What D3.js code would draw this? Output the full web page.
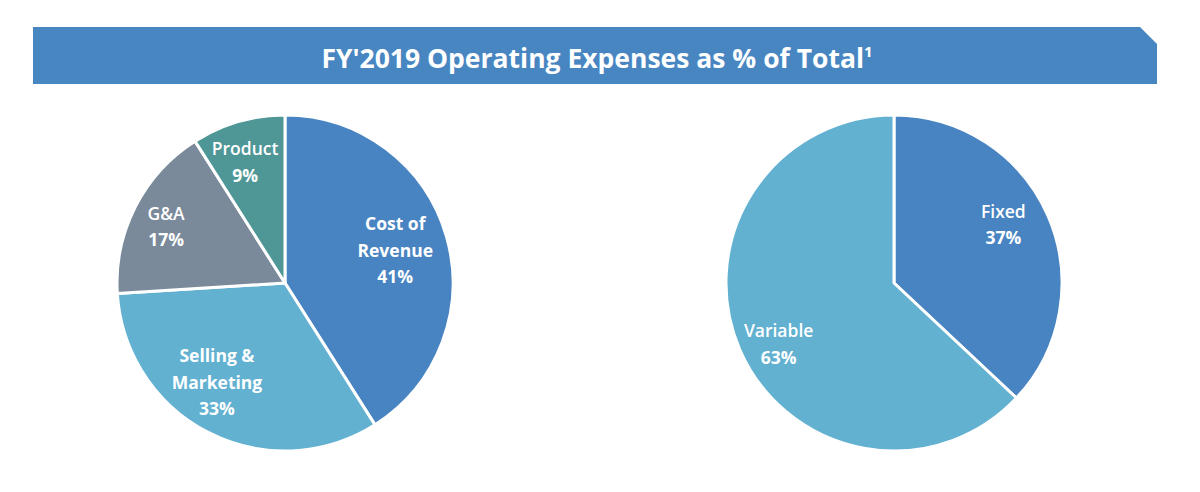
<!DOCTYPE html>
<html><head><meta charset="utf-8">
<script src="https://cdn.jsdelivr.net/npm/d3@7"></script>
<style>body{margin:0;background:#fff}svg{display:block}</style>
</head><body>
<svg id="c" width="1200" height="492"></svg>
<script>
const title = "FY'2019 Operating Expenses as % of Total";
const titleNote = "1";
const leftCategories = [["Cost of","Revenue"], ["Selling &","Marketing"], ["G&A"], ["Product"]];
const leftValues = [41, 33, 17, 9];
const leftColors = ["#4884c1", "#62b1d1", "#7b8a9b", "#4f9697"];
const rightCategories = [["Fixed"], ["Variable"]];
const rightValues = [37, 63];
const rightColors = ["#4884c1", "#62b1d1"];

const svg = d3.select("#c");
const FONT = "'Open Sans', Lato, sans-serif";

// banner
const bx0 = 33, bx1 = 1157, by0 = 27, by1 = 84, cut = 17;
svg.append("path")
  .attr("d", `M${bx0},${by0}L${bx1-cut},${by0}L${bx1},${by0+cut}L${bx1},${by1}L${bx0},${by1}Z`)
  .attr("fill", "#4886c2");
const tt = svg.append("text").attr("x", 597).attr("y", 68).attr("text-anchor", "middle")
  .attr("fill", "#fff").attr("font-family", FONT).attr("font-weight", 700).attr("font-size", 26.5);
tt.append("tspan").text(title);
tt.append("tspan").attr("font-size", 15).attr("dy", -11).text(titleNote);

function drawPie(cx, cy, R, cats, vals, cols, labelFactor, angleNudge, boldNames) {
  const g = svg.append("g").attr("transform", `translate(${cx},${cy})`);
  const data = vals.map((v, i) => ({name: cats[i], value: v, color: cols[i], i}));
  const pie = d3.pie().value(d => d.value).sort(null);
  const arc = d3.arc().innerRadius(0).outerRadius(R);
  const arcs = pie(data);
  g.selectAll("path.s").data(arcs).join("path").attr("class", "s")
    .attr("d", arc).attr("fill", d => d.data.color)
    .attr("stroke", "#fff").attr("stroke-width", 3).attr("stroke-linejoin", "round");
  const lh = 26.5;
  arcs.forEach(a => {
    const i = a.data.i;
    const mid = (a.startAngle + a.endAngle) / 2 + angleNudge[i] * Math.PI / 180;
    const [x, y] = d3.pointRadial(mid, R * labelFactor[i]);
    const lines = a.data.name.concat([a.data.value + "%"]);
    const n = lines.length;
    lines.forEach((t, k) => {
      const isPct = k === n - 1;
      g.append("text").attr("x", x).attr("y", y + (k - (n - 1) / 2) * lh)
        .attr("text-anchor", "middle").attr("dominant-baseline", "central")
        .attr("fill", "#fff").attr("font-family", FONT).attr("font-size", 17.5)
        .attr("font-weight", (isPct || boldNames[i]) ? 700 : 600)
        .text(t);
    });
  });
}

drawPie(285, 283, 168, leftCategories, leftValues, leftColors,
  [0.685, 0.715, 0.785, 0.76], [-0.5, 7.5, -1.4, -2], [true, true, false, false]);
drawPie(894, 283, 168, rightCategories, rightValues, rightColors,
  [0.74, 0.775], [-5, -4.2], [false, false]);
</script>
</body></html>
